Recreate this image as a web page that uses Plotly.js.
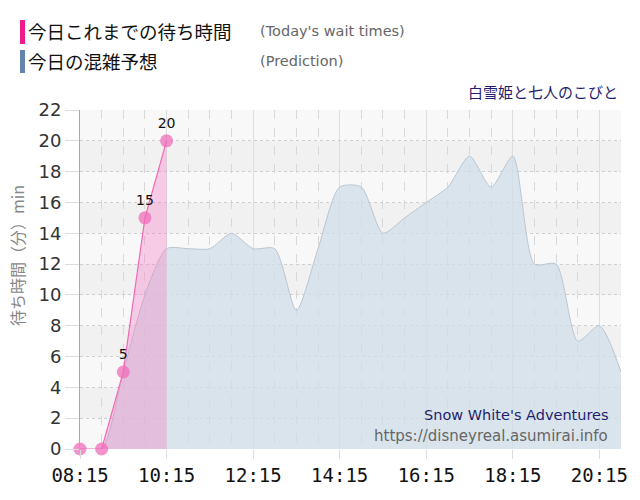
<!DOCTYPE html>
<html><head><meta charset="utf-8">
<script src="https://cdn.plot.ly/plotly-3.0.1.min.js"></script>
<style>html,body{margin:0;padding:0;background:#fff}</style>
</head><body><div id="chart" style="width:640px;height:500px"></div>
<script>
// wait times so far today
const actualTimes = ["08:15","08:45","09:15","09:45","10:15"];
const actualValues = [0,0,5,15,20];
const actualLabels = ["","","5","15","20"];
// prediction
const predTimes = ["08:15","08:45","09:15","09:45","10:15","10:45","11:15","11:45","12:15","12:45","13:15","13:45","14:15","14:45","15:15","15:45","16:15","16:45","17:15","17:45","18:15","18:45","19:15","19:45","20:15","20:45"];
const predValues = [0,0,5,10,13,13,13,14,13,13,9,13,17,17,14,15,16,17,19,17,19,12,12,7,8,5];
const yTicks = [0,2,4,6,8,10,12,14,16,18,20,22];
const xTickLabels = ["08:15","10:15","12:15","14:15","16:15","18:15","20:15"];

const D = t => "2024-01-01 " + t + ":00";

const traces = [
  {x: predTimes.map(D), y: predValues, type:'scatter', mode:'lines',
   line:{shape:'spline', smoothing:0.7, color:'#b9c7d2', width:1},
   fill:'tozeroy', fillcolor:'rgba(208,222,232,0.75)', hoverinfo:'skip'},
  {x: actualTimes.map(D), y: actualValues, type:'scatter', mode:'lines+markers+text',
   text: actualLabels, textposition:'top center', textfont:{family:'DejaVu Sans', size:14, color:'#111'},
   line:{color:'#f06bb5', width:1.2},
   marker:{size:13, color:'rgba(240,110,185,0.75)'},
   fill:'tozeroy', fillcolor:'rgba(245,120,195,0.35)', cliponaxis:false}
];

const shapes = [];
for (let i = 0; i + 1 < yTicks.length; i++) {
  if (i % 2 === 1) shapes.push({type:'rect', xref:'paper', yref:'y', x0:0, x1:1, y0:yTicks[i], y1:yTicks[i+1], fillcolor:'#f1f1f1', line:{width:0}, layer:'below'});
}
// legend bars
shapes.push({type:'rect', xref:'paper', yref:'paper', x0:(20-80)/541, x1:(25-80)/541, y0:(449-44)/339, y1:(449-20)/339, fillcolor:'#f0198c', line:{width:0}});
shapes.push({type:'rect', xref:'paper', yref:'paper', x0:(20-80)/541, x1:(25-80)/541, y0:(449-73)/339, y1:(449-50)/339, fillcolor:'#6483ad', line:{width:0}});

const px = v => (v-80)/541, py = v => (449-v)/339;
const annotations = [
  {xref:'paper', yref:'paper', x:px(26), y:py(31), xanchor:'left', yanchor:'middle', showarrow:false, text:'今日これまでの待ち時間', font:{family:'Noto Sans CJK JP', size:18.5, color:'#111'}},
  {xref:'paper', yref:'paper', x:px(26), y:py(61), xanchor:'left', yanchor:'middle', showarrow:false, text:'今日の混雑予想', font:{family:'Noto Sans CJK JP', size:18.5, color:'#111'}},
  {xref:'paper', yref:'paper', x:px(258), y:py(31), xanchor:'left', yanchor:'middle', showarrow:false, text:"(Today's wait times)", font:{family:'DejaVu Sans', size:14.5, color:'#666'}},
  {xref:'paper', yref:'paper', x:px(258), y:py(61), xanchor:'left', yanchor:'middle', showarrow:false, text:'(Prediction)', font:{family:'DejaVu Sans', size:14.5, color:'#666'}},
  {xref:'paper', yref:'paper', x:px(620), y:py(91), xanchor:'right', yanchor:'middle', showarrow:false, text:'白雪姫と七人のこびと', font:{family:'Noto Sans CJK JP', size:15, color:'#1e1e6e'}},
  {xref:'paper', yref:'paper', x:px(611), y:py(415), xanchor:'right', yanchor:'middle', showarrow:false, text:"Snow White's Adventures", font:{family:'DejaVu Sans', size:14.5, color:'#1e1e6e'}},
  {xref:'paper', yref:'paper', x:px(610), y:py(436), xanchor:'right', yanchor:'middle', showarrow:false, text:'https://disneyreal.asumirai.info', font:{family:'DejaVu Sans', size:15, color:'#666'}},
  {xref:'paper', yref:'paper', x:px(17), y:py(256), xanchor:'center', yanchor:'middle', showarrow:false, textangle:-90, text:'待ち時間（分）min', font:{family:'Noto Sans CJK JP', size:16, color:'#888'}}
];

const layout = {
  width:640, height:500,
  margin:{l:80, r:19, t:110, b:51, pad:0},
  paper_bgcolor:'#ffffff', plot_bgcolor:'#f8f8f8',
  showlegend:false,
  xaxis:{type:'date', range:[D("08:15"), D("20:45")],
    tickvals: xTickLabels.map(D), ticktext: xTickLabels,
    ticks:'outside', ticklen:9, tickcolor:'#dddddd', tickwidth:1,
    showgrid:true, gridcolor:'#dddddd', gridwidth:1,
    minor:{dtick:1800000, tick0:D("08:15"), showgrid:true, gridcolor:'#d8d8d8', griddash:'dash', gridwidth:1},
    tickfont:{family:'DejaVu Sans Mono', size:19, color:'#111'},
    zeroline:false, showline:false, fixedrange:true},
  yaxis:{range:[0,22], tickvals:yTicks, ticks:'outside', ticklen:14, tickcolor:'#dddddd',
    showgrid:true, gridcolor:'#cfcfcf', griddash:'dot', gridwidth:1,
    tickfont:{family:'DejaVu Sans', size:18, color:'#333'},
    showline:true, linecolor:'#a8a8b8', linewidth:1, zeroline:false, fixedrange:true},
  shapes: shapes, annotations: annotations
};
Plotly.newPlot('chart', traces, layout, {staticPlot:true, displayModeBar:false});
</script></body></html>
